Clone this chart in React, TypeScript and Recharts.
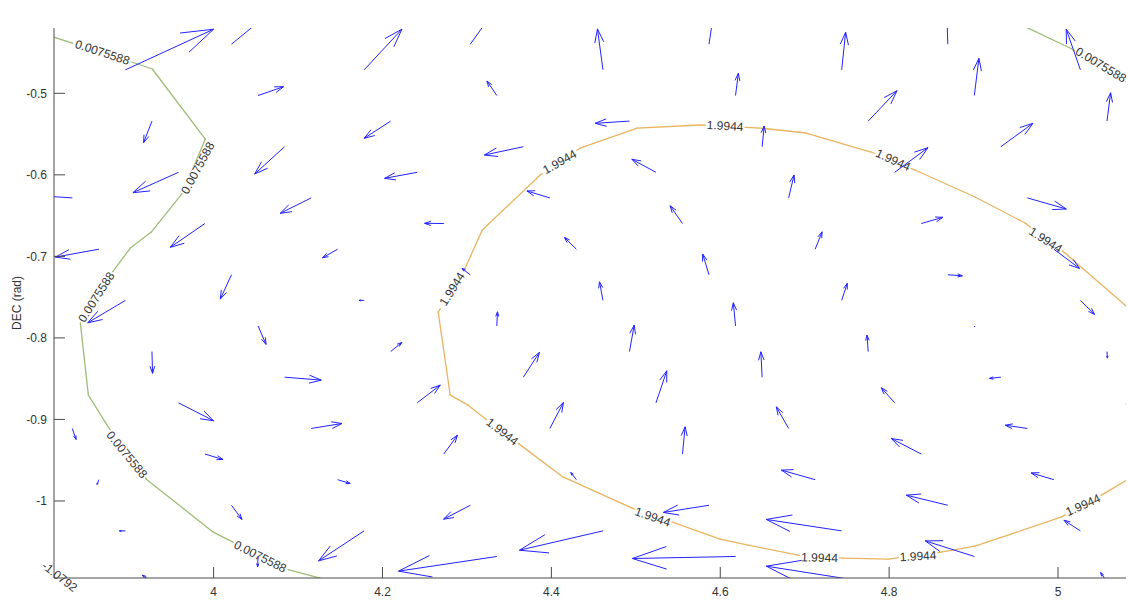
import React from 'react';
import { ScatterChart, XAxis, YAxis, ReferenceLine } from 'recharts';

type Pt = { x: number; y: number };
type Seg = [number, number, number, number];

const FONT = '"Liberation Sans", Arial, Helvetica, sans-serif';
const ARROW_COLOR = '#2323ff';
const GREEN = '#9fbc78';
const ORANGE = '#e8b462';
const AXIS = '#4a4a4a';
const TEXT = '#333333';

// axes
const xTicks = [4, 4.2, 4.4, 4.6, 4.8, 5];
const yTicks = [-1, -0.9, -0.8, -0.7, -0.6, -0.5];
const xDomain: [number, number] = [3.811, 5.0805];
const yDomain: [number, number] = [-1.0945, -0.4199];
const yAxisTitle = 'DEC (rad)';

// contour levels
const levelLow = '0.0075588';
const levelHigh = '1.9944';
const levelNeg = '-1.0792';

// contour lines (RA, DEC)
const greenContourLeft: Pt[] = [
  { x: 3.8008, y: -0.4279 }, { x: 3.9014, y: -0.461 }, { x: 3.9274, y: -0.4702 },
  { x: 3.9902, y: -0.5561 }, { x: 3.9641, y: -0.6211 }, { x: 3.9262, y: -0.6702 },
  { x: 3.9014, y: -0.6898 }, { x: 3.8801, y: -0.7193 }, { x: 3.8422, y: -0.7818 },
  { x: 3.8517, y: -0.8702 }, { x: 3.8753, y: -0.9094 }, { x: 3.9203, y: -0.9733 },
  { x: 3.9996, y: -1.0383 }, { x: 4.0861, y: -1.0837 }, { x: 4.1441, y: -1.0996 },
];
const greenContourRight: Pt[] = [
  { x: 4.9491, y: -0.4125 }, { x: 5.0154, y: -0.445 }, { x: 5.0971, y: -0.496 },
];
const orangeContour: Pt[] = [
  { x: 4.298, y: -0.7144 }, { x: 4.3181, y: -0.6677 }, { x: 4.3868, y: -0.6002 },
  { x: 4.4341, y: -0.5671 }, { x: 4.5016, y: -0.5426 }, { x: 4.5762, y: -0.5389 },
  { x: 4.6472, y: -0.5426 }, { x: 4.7017, y: -0.5487 }, { x: 4.7786, y: -0.572 },
  { x: 4.8307, y: -0.5941 }, { x: 4.9017, y: -0.6272 }, { x: 4.9609, y: -0.6591 },
  { x: 5.0083, y: -0.696 }, { x: 5.0971, y: -0.7757 }, { x: 5.1208, y: -0.8767 },
  { x: 5.0971, y: -0.9647 }, { x: 5.0556, y: -0.9904 }, { x: 5.0036, y: -1.0199 },
  { x: 4.9017, y: -1.0555 }, { x: 4.8615, y: -1.0628 }, { x: 4.7987, y: -1.0714 },
  { x: 4.7455, y: -1.0702 }, { x: 4.6922, y: -1.0665 }, { x: 4.633, y: -1.0542 },
  { x: 4.5999, y: -1.0469 }, { x: 4.5466, y: -1.0272 }, { x: 4.4957, y: -1.0088 },
  { x: 4.4223, y: -0.9745 }, { x: 4.414, y: -0.9708 }, { x: 4.3666, y: -0.934 },
  { x: 4.324, y: -0.9009 }, { x: 4.3015, y: -0.8825 }, { x: 4.2802, y: -0.8702 },
  { x: 4.266, y: -0.7683 }, { x: 4.298, y: -0.7144 },
];

// label spans along the contours: [x1, y1, x2, y2]
const greenLabelSpans: Seg[] = [
  [3.8339, -0.4383, 3.9026, -0.4616],
  [3.9653, -0.6223, 3.9973, -0.561],
  [3.8422, -0.7806, 3.8801, -0.7193],
  [3.8753, -0.9156, 3.9191, -0.9708],
  [4.0233, -1.0518, 4.0872, -1.0849],
  [5.0212, -0.4469, 5.0805, -0.4837],
];
const orangeLabelSpans: Seg[] = [
  [4.2684, -0.7634, 4.2968, -0.7168],
  [4.3891, -0.5966, 4.4306, -0.572],
  [4.5845, -0.5389, 4.6271, -0.5413],
  [4.7869, -0.5733, 4.8224, -0.5904],
  [4.9669, -0.6677, 5.0036, -0.6923],
  [5.0083, -1.015, 5.0509, -0.9953],
  [4.8129, -1.069, 4.8556, -1.0665],
  [4.6957, -1.069, 4.7395, -1.0702],
  [4.4992, -1.0123, 4.5407, -1.0272],
  [4.324, -0.9009, 4.3595, -0.9291],
];
const negLabelSpans: Seg[] = [[3.7969, -1.0763, 3.8383, -1.1095]];

// vector field: [x, y, u, v]
const arrows: Seg[] = [
  [4.0212, -0.4398, 0.0474, 0.0405], [4.304, -0.4398, 0.0237, 0.0344],
  [4.5867, -0.4398, 0.0053, 0.0368], [4.8695, -0.4398, -0.0012, 0.0368],

  [3.8956, -0.4712, 0.1044, 0.0498], [4.1783, -0.4712, 0.0447, 0.0498],
  [4.4611, -0.4712, -0.0065, 0.0502], [4.7438, -0.4712, 0.0047, 0.0461],
  [5.0265, -0.4712, -0.0168, 0.0498],

  [4.0527, -0.5027, 0.0302, 0.0108], [4.3354, -0.5027, -0.0117, 0.0178],
  [4.6181, -0.5027, 0.0033, 0.0272], [4.9009, -0.5027, 0.0054, 0.0456],

  [3.927, -0.5341, -0.0099, -0.0265], [4.2097, -0.5341, -0.0314, -0.0211],
  [4.4925, -0.5341, -0.0406, -0.0027], [4.7752, -0.5341, 0.0341, 0.0373],
  [5.058, -0.5341, 0.0043, 0.0348],

  [4.0841, -0.5655, -0.0355, -0.0335], [4.3668, -0.5655, -0.0461, -0.0102],
  [4.6496, -0.5655, 0.0024, 0.0254], [4.9323, -0.5655, 0.038, 0.0287],

  [3.9584, -0.5969, -0.0539, -0.025], [4.2412, -0.5969, -0.0387, -0.0074],
  [4.5239, -0.5969, -0.0286, 0.016], [4.8066, -0.5969, 0.0394, 0.0302],

  [3.8327, -0.6283, -0.0331, 0.0023], [4.1155, -0.6283, -0.0366, -0.0189],
  [4.3982, -0.6283, -0.0272, 0.0085], [4.681, -0.6283, 0.0064, 0.0281],
  [4.9637, -0.6283, 0.0461, -0.0136],

  [3.9898, -0.6597, -0.0411, -0.0292], [4.2726, -0.6597, -0.0228, 0.0002],
  [4.5553, -0.6597, -0.0147, 0.0218], [4.8381, -0.6597, 0.0257, 0.0076],

  [3.8642, -0.6912, -0.0516, -0.0097], [4.1469, -0.6912, -0.0179, -0.0106],
  [4.4296, -0.6912, -0.0142, 0.0145], [4.7124, -0.6912, 0.0082, 0.0213],
  [4.9951, -0.6912, 0.0304, -0.0236],

  [4.0212, -0.7226, -0.0133, -0.0298], [4.304, -0.7226, -0.0099, 0.0079],
  [4.5867, -0.7226, -0.0075, 0.0254], [4.8695, -0.7226, 0.0172, -0.0012],

  [3.8956, -0.754, -0.0447, -0.0275], [4.1783, -0.754, -0.0059, 0.0],
  [4.4611, -0.754, -0.0041, 0.0228], [4.7438, -0.754, 0.0066, 0.0209],
  [5.0265, -0.754, 0.0168, -0.0172],

  [4.0527, -0.7854, 0.0094, -0.0226], [4.3354, -0.7854, 0.0008, 0.0174],
  [4.6181, -0.7854, -0.0026, 0.0285], [4.9009, -0.7854, 0.0005, -0.001],

  [3.927, -0.8168, 0.0007, -0.0267], [4.2097, -0.8168, 0.0133, 0.0113],
  [4.4925, -0.8168, 0.0056, 0.0325], [4.7752, -0.8168, -0.0014, 0.0202],
  [5.058, -0.8168, 0.0005, -0.008],

  [4.0841, -0.8482, 0.0434, -0.0036], [4.3668, -0.8482, 0.0191, 0.0304],
  [4.6496, -0.8482, -0.0015, 0.0312], [4.9323, -0.8482, -0.0133, -0.0015],

  [3.9584, -0.8796, 0.0416, -0.0221], [4.2412, -0.8796, 0.0272, 0.0217],
  [4.5239, -0.8796, 0.0128, 0.0393], [4.8066, -0.8796, -0.0159, 0.0184],
  [5.0894, -0.8796, -0.009, -0.001],

  [3.8327, -0.9111, 0.0044, -0.0135], [4.1155, -0.9111, 0.0365, 0.0061],
  [4.3982, -0.9111, 0.0161, 0.0319], [4.681, -0.9111, -0.0146, 0.0265],
  [4.9637, -0.9111, -0.0262, 0.004],

  [3.9898, -0.9425, 0.0213, -0.0066], [4.2726, -0.9425, 0.0162, 0.0232],
  [4.5553, -0.9425, 0.0031, 0.0334], [4.8381, -0.9425, -0.0355, 0.0191],

  [3.8642, -0.9739, -0.0022, -0.0059], [4.1469, -0.9739, 0.0149, -0.0047],
  [4.4296, -0.9739, -0.0066, 0.0088], [4.7124, -0.9739, -0.04, 0.0117],
  [4.9951, -0.9739, -0.0269, 0.0083],

  [4.0212, -1.0053, 0.0124, -0.0174], [4.304, -1.0053, -0.0317, -0.0171],
  [4.5867, -1.0053, -0.0541, -0.0088], [4.8695, -1.0053, -0.0491, 0.0124],

  [3.8956, -1.0367, -0.0072, 0.0], [4.1783, -1.0367, -0.054, -0.0368],
  [4.4611, -1.0367, -0.0989, -0.0237], [4.7438, -1.0367, -0.0893, 0.014],
  [5.0265, -1.0367, -0.0195, 0.0131],

  [4.0527, -1.0681, -0.0006, -0.0128], [4.3354, -1.0681, -0.1164, -0.018],
  [4.6181, -1.0681, -0.1222, -0.0025], [4.9009, -1.0681, -0.0581, 0.0191],

  [3.927, -1.0996, -0.0115, 0.0086], [4.7752, -1.0996, -0.1206, 0.0196],
  [5.058, -1.0996, -0.0076, 0.0119],
];

const LABEL_SIZE = 12;

function textWidth(t: string, size: number) {
  let w = 0;
  for (const ch of t) {
    if (ch === '.') w += 0.278;
    else if (ch === '-') w += 0.333;
    else w += 0.556;
  }
  return w * size;
}

const ArrowShape = (p: any) => {
  const { x1, y1, x2, y2, clipPath } = p;
  const dx = x2 - x1;
  const dy = y2 - y1;
  const a = 0.33;
  const b = 0.33;
  const h1x = x2 - a * (dx + b * dy);
  const h1y = y2 - a * (dy - b * dx);
  const h2x = x2 - a * (dx - b * dy);
  const h2y = y2 - a * (dy + b * dx);
  return (
    <g clipPath={clipPath}>
      <path
        d={`M${x1},${y1}L${x2},${y2}M${h1x},${h1y}L${x2},${y2}L${h2x},${h2y}`}
        stroke={ARROW_COLOR}
        strokeWidth={1}
        fill="none"
      />
    </g>
  );
};

const makeContourShape = (color: string) => (p: any) => {
  const { x1, y1, x2, y2, clipPath } = p;
  return (
    <g clipPath={clipPath}>
      <line x1={x1} y1={y1} x2={x2} y2={y2} stroke={color} strokeWidth={1.3} strokeLinecap="round" />
    </g>
  );
};

const makeLabelShape = (text: string) => (p: any) => {
  const { x1, y1, x2, y2, clipPath } = p;
  const mx = (x1 + x2) / 2;
  const my = (y1 + y2) / 2;
  const ang = (Math.atan2(y2 - y1, x2 - x1) * 180) / Math.PI;
  const len = Math.hypot(x2 - x1, y2 - y1);
  const w = Math.max(len, textWidth(text, LABEL_SIZE) + 2);
  return (
    <g clipPath={clipPath}>
      <g transform={`translate(${mx},${my}) rotate(${ang})`}>
        <rect x={-w / 2} y={-4.5} width={w} height={9} fill="#ffffff" />
        <text
          x={0}
          y={0}
          textAnchor="middle"
          dominantBaseline="central"
          fontSize={LABEL_SIZE}
          fontFamily={FONT}
          fill={TEXT}
        >
          {text}
        </text>
      </g>
    </g>
  );
};

function contourSegments(pts: Pt[], color: string, key: string) {
  const shape = makeContourShape(color);
  const out: React.ReactNode[] = [];
  for (let i = 0; i < pts.length - 1; i++) {
    out.push(
      <ReferenceLine
        key={`${key}-${i}`}
        segment={[pts[i], pts[i + 1]]}
        ifOverflow="hidden"
        shape={shape}
      />
    );
  }
  return out;
}

function labelLines(spans: Seg[], text: string, key: string, overflow: 'hidden' | 'visible') {
  const shape = makeLabelShape(text);
  return spans.map((s, i) => (
    <ReferenceLine
      key={`${key}-${i}`}
      segment={[{ x: s[0], y: s[1] }, { x: s[2], y: s[3] }]}
      ifOverflow={overflow}
      shape={shape}
    />
  ));
}

const YTitle = (props: any) => {
  const vb = props && props.viewBox ? props.viewBox : { x: 0, y: 28, width: 54, height: 550 };
  const cx = vb.x + 17;
  const cy = vb.y + vb.height / 2;
  return (
    <text
      transform={`translate(${cx},${cy}) rotate(-90)`}
      textAnchor="middle"
      dominantBaseline="central"
      fontSize={12}
      fontFamily={FONT}
      fill={TEXT}
    >
      {yAxisTitle}
    </text>
  );
};

export default function App() {
  return (
    <div style={{ position: 'absolute', left: 0, top: 0, width: 1128, height: 600, background: '#ffffff' }}>
      <ScatterChart width={1128} height={600} margin={{ top: 28, right: 2, bottom: 0, left: 0 }}>
        <XAxis
          xAxisId={0}
          type="number"
          dataKey="x"
          domain={xDomain}
          allowDataOverflow
          ticks={xTicks}
          interval={0}
          height={22}
          tickSize={-11}
          tickMargin={20}
          tick={{ fill: TEXT, fontSize: 12, fontFamily: FONT }}
          axisLine={{ stroke: AXIS }}
          tickLine={{ stroke: AXIS }}
        />
        <XAxis
          xAxisId="top"
          orientation="top"
          type="number"
          dataKey="x"
          domain={xDomain}
          allowDataOverflow
          ticks={xTicks}
          interval={0}
          height={0}
          tickSize={-11}
          tick={false}
          axisLine={{ stroke: AXIS }}
          tickLine={{ stroke: AXIS }}
        />
        <YAxis
          yAxisId={0}
          type="number"
          dataKey="y"
          domain={yDomain}
          allowDataOverflow
          ticks={yTicks}
          interval={0}
          width={54}
          tickSize={-11}
          tickMargin={18}
          tick={{ fill: TEXT, fontSize: 12, fontFamily: FONT }}
          axisLine={{ stroke: AXIS }}
          tickLine={{ stroke: AXIS }}
          label={YTitle}
        />
        <YAxis
          yAxisId="right"
          orientation="right"
          type="number"
          dataKey="y"
          domain={yDomain}
          allowDataOverflow
          ticks={yTicks}
          interval={0}
          width={0}
          tickSize={-11}
          tick={false}
          axisLine={{ stroke: AXIS }}
          tickLine={{ stroke: AXIS }}
        />
        {contourSegments(greenContourLeft, GREEN, 'gl')}
        {contourSegments(greenContourRight, GREEN, 'gr')}
        {contourSegments(orangeContour, ORANGE, 'or')}
        {labelLines(greenLabelSpans, levelLow, 'lg', 'hidden')}
        {labelLines(orangeLabelSpans, levelHigh, 'lo', 'hidden')}
        {labelLines(negLabelSpans, levelNeg, 'ln', 'visible')}
        {arrows.map((a, i) => (
          <ReferenceLine
            key={`ar-${i}`}
            segment={[{ x: a[0], y: a[1] }, { x: a[0] + a[2], y: a[1] + a[3] }]}
            ifOverflow="hidden"
            shape={ArrowShape}
          />
        ))}
      </ScatterChart>
    </div>
  );
}
